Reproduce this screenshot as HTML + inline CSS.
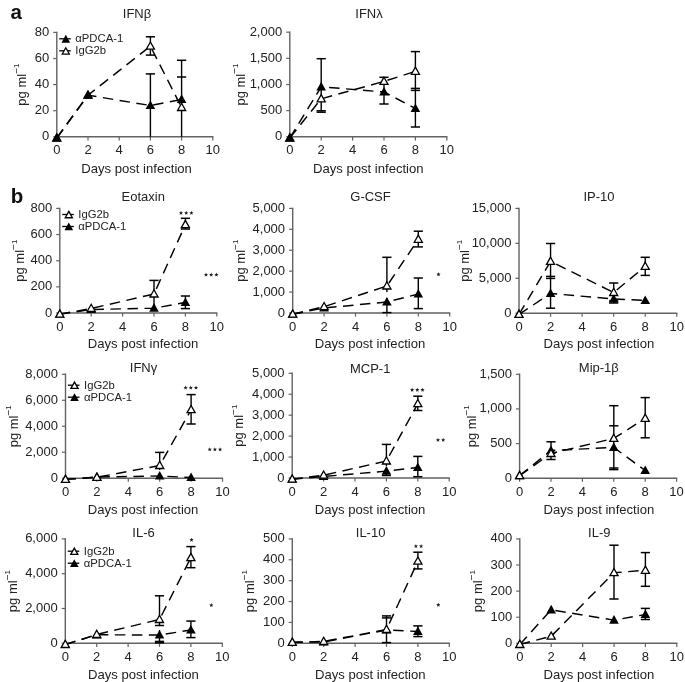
<!DOCTYPE html>
<html><head><meta charset="utf-8"><style>
html,body{margin:0;padding:0;background:#fff;}
svg{display:block;filter:grayscale(1);}
.t{font-family:"Liberation Sans", sans-serif;font-size:13px;fill:#222;}
.l{font-family:"Liberation Sans", sans-serif;font-size:11.3px;fill:#222;}
.s{font-family:"Liberation Sans", sans-serif;font-size:12px;fill:#222;}
.p{font-family:"Liberation Sans", sans-serif;font-size:20.5px;font-weight:bold;fill:#111;}
</style></head><body>
<svg width="685" height="682" viewBox="0 0 685 682">
<rect width="685" height="682" fill="#fff"/>
<path d="M56.8 31.7V136.8H213.4" fill="none" stroke="#626262" stroke-width="1.4"/>
<path d="M53.2 136.8H56.8" stroke="#626262" stroke-width="1.2"/>
<text x="49.2" y="140.3" text-anchor="end" class="t">0</text>
<path d="M53.2 110.7H56.8" stroke="#626262" stroke-width="1.2"/>
<text x="49.2" y="114.2" text-anchor="end" class="t">20</text>
<path d="M53.2 84.6H56.8" stroke="#626262" stroke-width="1.2"/>
<text x="49.2" y="88.1" text-anchor="end" class="t">40</text>
<path d="M53.2 58.5H56.8" stroke="#626262" stroke-width="1.2"/>
<text x="49.2" y="62" text-anchor="end" class="t">60</text>
<path d="M53.2 32.4H56.8" stroke="#626262" stroke-width="1.2"/>
<text x="49.2" y="35.9" text-anchor="end" class="t">80</text>
<path d="M56.8 136.8V140.4" stroke="#626262" stroke-width="1.2"/>
<text x="56.8" y="154.4" text-anchor="middle" class="t">0</text>
<path d="M88 136.8V140.4" stroke="#626262" stroke-width="1.2"/>
<text x="88" y="154.4" text-anchor="middle" class="t">2</text>
<path d="M119.2 136.8V140.4" stroke="#626262" stroke-width="1.2"/>
<text x="119.2" y="154.4" text-anchor="middle" class="t">4</text>
<path d="M150.4 136.8V140.4" stroke="#626262" stroke-width="1.2"/>
<text x="150.4" y="154.4" text-anchor="middle" class="t">6</text>
<path d="M181.6 136.8V140.4" stroke="#626262" stroke-width="1.2"/>
<text x="181.6" y="154.4" text-anchor="middle" class="t">8</text>
<path d="M212.8 136.8V140.4" stroke="#626262" stroke-width="1.2"/>
<text x="212.8" y="154.4" text-anchor="middle" class="t">10</text>
<text x="136.6" y="173.1" text-anchor="middle" class="t" style="font-size:13.1px">Days post infection</text>
<text transform="translate(25.8 84.6) rotate(-90)" text-anchor="middle" class="t">pg ml<tspan dy="-6.2" font-size="10">−</tspan><tspan dy="-0.5" font-size="8">1</tspan></text>
<text x="137" y="18.3" text-anchor="middle" class="t">IFNβ</text>
<path d="M56.8 138L88 95.2L150.4 105.5L181.6 99.4" fill="none" stroke="#000" stroke-width="1.45" stroke-dasharray="10.5 6.5"/>
<path d="M56.8 138L88 95.2L150.4 46.2L181.6 107.5" fill="none" stroke="#000" stroke-width="1.45" stroke-dasharray="10.5 6.5"/>
<path d="M150.4 36.8V55.1" stroke="#000" stroke-width="1.4"/>
<path d="M145.8 36.8H155" stroke="#000" stroke-width="1.5"/>
<path d="M145.8 55.1H155" stroke="#000" stroke-width="1.5"/>
<path d="M150.4 73.9V136.8" stroke="#000" stroke-width="1.4"/>
<path d="M145.8 73.9H155" stroke="#000" stroke-width="1.5"/>
<path d="M181.6 60.3V136.8" stroke="#000" stroke-width="1.4"/>
<path d="M177 60.3H186.2" stroke="#000" stroke-width="1.5"/>
<path d="M177 77H186.2" stroke="#000" stroke-width="1.5"/>
<path d="M56.8 133.8L60.85 141L52.75 141Z" fill="#fff" stroke="#000" stroke-width="1.3" stroke-linejoin="miter"/>
<path d="M88 91L92.05 98.2L83.95 98.2Z" fill="#fff" stroke="#000" stroke-width="1.3" stroke-linejoin="miter"/>
<path d="M150.4 42L154.45 49.2L146.35 49.2Z" fill="#fff" stroke="#000" stroke-width="1.3" stroke-linejoin="miter"/>
<path d="M181.6 103.3L185.65 110.5L177.55 110.5Z" fill="#fff" stroke="#000" stroke-width="1.3" stroke-linejoin="miter"/>
<path d="M56.8 132.9L61.6 141.6L52 141.6Z" fill="#000"/>
<path d="M88 90.1L92.8 98.8L83.2 98.8Z" fill="#000"/>
<path d="M150.4 100.4L155.2 109.1L145.6 109.1Z" fill="#000"/>
<path d="M181.6 94.3L186.4 103L176.8 103Z" fill="#000"/>
<path d="M59.2 38.8H70.8" stroke="#000" stroke-width="1.3"/>
<path d="M65.8 34.81L70.12 42.64L61.48 42.64Z" fill="#000"/>
<text x="75.3" y="42.4" class="l">αPDCA-1</text>
<path d="M59.2 50.8H70.8" stroke="#000" stroke-width="1.3"/>
<path d="M65.8 47.71L69.37 54.04L62.23 54.04Z" fill="#fff" stroke="#000" stroke-width="1.3" stroke-linejoin="miter"/>
<text x="75.3" y="54.4" class="l">IgG2b</text>
<path d="M289.8 31.5V136.8H447.4" fill="none" stroke="#626262" stroke-width="1.4"/>
<path d="M286.2 136.8H289.8" stroke="#626262" stroke-width="1.2"/>
<text x="282.2" y="140.3" text-anchor="end" class="t">0</text>
<path d="M286.2 110.65H289.8" stroke="#626262" stroke-width="1.2"/>
<text x="282.2" y="114.15" text-anchor="end" class="t">500</text>
<path d="M286.2 84.5H289.8" stroke="#626262" stroke-width="1.2"/>
<text x="282.2" y="88" text-anchor="end" class="t">1,000</text>
<path d="M286.2 58.35H289.8" stroke="#626262" stroke-width="1.2"/>
<text x="282.2" y="61.85" text-anchor="end" class="t">1,500</text>
<path d="M286.2 32.2H289.8" stroke="#626262" stroke-width="1.2"/>
<text x="282.2" y="35.7" text-anchor="end" class="t">2,000</text>
<path d="M289.8 136.8V140.4" stroke="#626262" stroke-width="1.2"/>
<text x="289.8" y="154.4" text-anchor="middle" class="t">0</text>
<path d="M321.2 136.8V140.4" stroke="#626262" stroke-width="1.2"/>
<text x="321.2" y="154.4" text-anchor="middle" class="t">2</text>
<path d="M352.6 136.8V140.4" stroke="#626262" stroke-width="1.2"/>
<text x="352.6" y="154.4" text-anchor="middle" class="t">4</text>
<path d="M384 136.8V140.4" stroke="#626262" stroke-width="1.2"/>
<text x="384" y="154.4" text-anchor="middle" class="t">6</text>
<path d="M415.4 136.8V140.4" stroke="#626262" stroke-width="1.2"/>
<text x="415.4" y="154.4" text-anchor="middle" class="t">8</text>
<path d="M446.8 136.8V140.4" stroke="#626262" stroke-width="1.2"/>
<text x="446.8" y="154.4" text-anchor="middle" class="t">10</text>
<text x="368.3" y="173.1" text-anchor="middle" class="t" style="font-size:13.1px">Days post infection</text>
<text transform="translate(244.5 84.5) rotate(-90)" text-anchor="middle" class="t">pg ml<tspan dy="-6.2" font-size="10">−</tspan><tspan dy="-0.5" font-size="8">1</tspan></text>
<text x="369" y="18.3" text-anchor="middle" class="t">IFNλ</text>
<path d="M289.8 138L321.2 86.8L384 92L415.4 108.5" fill="none" stroke="#000" stroke-width="1.45" stroke-dasharray="10.5 6.5"/>
<path d="M289.8 138L321.2 98.8L384 81.4L415.4 71.3" fill="none" stroke="#000" stroke-width="1.45" stroke-dasharray="10.5 6.5"/>
<path d="M321.2 58.7V111.6" stroke="#000" stroke-width="1.4"/>
<path d="M316.6 58.7H325.8" stroke="#000" stroke-width="1.5"/>
<path d="M316.6 110.8H325.8" stroke="#000" stroke-width="1.5"/>
<path d="M316.6 112.2H325.8" stroke="#000" stroke-width="1.5"/>
<path d="M384 77.3V104" stroke="#000" stroke-width="1.4"/>
<path d="M379.4 77.3H388.6" stroke="#000" stroke-width="1.5"/>
<path d="M379.4 104H388.6" stroke="#000" stroke-width="1.5"/>
<path d="M415.4 51.6V127" stroke="#000" stroke-width="1.4"/>
<path d="M410.8 51.6H420" stroke="#000" stroke-width="1.5"/>
<path d="M410.8 88.4H420" stroke="#000" stroke-width="1.5"/>
<path d="M410.8 90.4H420" stroke="#000" stroke-width="1.5"/>
<path d="M410.8 127H420" stroke="#000" stroke-width="1.5"/>
<path d="M289.8 133.8L293.85 141L285.75 141Z" fill="#fff" stroke="#000" stroke-width="1.3" stroke-linejoin="miter"/>
<path d="M321.2 94.6L325.25 101.8L317.15 101.8Z" fill="#fff" stroke="#000" stroke-width="1.3" stroke-linejoin="miter"/>
<path d="M384 77.2L388.05 84.4L379.95 84.4Z" fill="#fff" stroke="#000" stroke-width="1.3" stroke-linejoin="miter"/>
<path d="M415.4 67.1L419.45 74.3L411.35 74.3Z" fill="#fff" stroke="#000" stroke-width="1.3" stroke-linejoin="miter"/>
<path d="M289.8 132.9L294.6 141.6L285 141.6Z" fill="#000"/>
<path d="M321.2 81.7L326 90.4L316.4 90.4Z" fill="#000"/>
<path d="M384 86.9L388.8 95.6L379.2 95.6Z" fill="#000"/>
<path d="M415.4 103.4L420.2 112.1L410.6 112.1Z" fill="#000"/>
<path d="M59.8 207.7V313H217.4" fill="none" stroke="#626262" stroke-width="1.4"/>
<path d="M56.2 313H59.8" stroke="#626262" stroke-width="1.2"/>
<text x="52.2" y="316.5" text-anchor="end" class="t">0</text>
<path d="M56.2 286.85H59.8" stroke="#626262" stroke-width="1.2"/>
<text x="52.2" y="290.35" text-anchor="end" class="t">200</text>
<path d="M56.2 260.7H59.8" stroke="#626262" stroke-width="1.2"/>
<text x="52.2" y="264.2" text-anchor="end" class="t">400</text>
<path d="M56.2 234.55H59.8" stroke="#626262" stroke-width="1.2"/>
<text x="52.2" y="238.05" text-anchor="end" class="t">600</text>
<path d="M56.2 208.4H59.8" stroke="#626262" stroke-width="1.2"/>
<text x="52.2" y="211.9" text-anchor="end" class="t">800</text>
<path d="M59.8 313V316.6" stroke="#626262" stroke-width="1.2"/>
<text x="59.8" y="330.6" text-anchor="middle" class="t">0</text>
<path d="M91.2 313V316.6" stroke="#626262" stroke-width="1.2"/>
<text x="91.2" y="330.6" text-anchor="middle" class="t">2</text>
<path d="M122.6 313V316.6" stroke="#626262" stroke-width="1.2"/>
<text x="122.6" y="330.6" text-anchor="middle" class="t">4</text>
<path d="M154 313V316.6" stroke="#626262" stroke-width="1.2"/>
<text x="154" y="330.6" text-anchor="middle" class="t">6</text>
<path d="M185.4 313V316.6" stroke="#626262" stroke-width="1.2"/>
<text x="185.4" y="330.6" text-anchor="middle" class="t">8</text>
<path d="M216.8 313V316.6" stroke="#626262" stroke-width="1.2"/>
<text x="216.8" y="330.6" text-anchor="middle" class="t">10</text>
<text x="143" y="348.2" text-anchor="middle" class="t" style="font-size:13.1px">Days post infection</text>
<text transform="translate(23.6 260.7) rotate(-90)" text-anchor="middle" class="t">pg ml<tspan dy="-6.2" font-size="10">−</tspan><tspan dy="-0.5" font-size="8">1</tspan></text>
<text x="143.3" y="201" text-anchor="middle" class="t">Eotaxin</text>
<path d="M59.8 314.2L91.2 309.5L154 308.2L185.4 302.5" fill="none" stroke="#000" stroke-width="1.45" stroke-dasharray="10.5 6.5"/>
<path d="M59.8 314.2L91.2 308.5L154 294L185.4 224.6" fill="none" stroke="#000" stroke-width="1.45" stroke-dasharray="10.5 6.5"/>
<path d="M154 280.4V306" stroke="#000" stroke-width="1.4"/>
<path d="M149.4 280.4H158.6" stroke="#000" stroke-width="1.5"/>
<path d="M185.4 218.3V229" stroke="#000" stroke-width="1.4"/>
<path d="M180.8 218.3H190" stroke="#000" stroke-width="1.5"/>
<path d="M180.8 229H190" stroke="#000" stroke-width="1.5"/>
<path d="M185.4 296V308.6" stroke="#000" stroke-width="1.4"/>
<path d="M180.8 296H190" stroke="#000" stroke-width="1.5"/>
<path d="M180.8 308.6H190" stroke="#000" stroke-width="1.5"/>
<path d="M59.8 309.1L64.6 317.8L55 317.8Z" fill="#000"/>
<path d="M91.2 304.4L96 313.1L86.4 313.1Z" fill="#000"/>
<path d="M154 303.1L158.8 311.8L149.2 311.8Z" fill="#000"/>
<path d="M185.4 297.4L190.2 306.1L180.6 306.1Z" fill="#000"/>
<path d="M59.8 310L63.85 317.2L55.75 317.2Z" fill="#fff" stroke="#000" stroke-width="1.3" stroke-linejoin="miter"/>
<path d="M91.2 304.3L95.25 311.5L87.15 311.5Z" fill="#fff" stroke="#000" stroke-width="1.3" stroke-linejoin="miter"/>
<path d="M154 289.8L158.05 297L149.95 297Z" fill="#fff" stroke="#000" stroke-width="1.3" stroke-linejoin="miter"/>
<path d="M185.4 220.4L189.45 227.6L181.35 227.6Z" fill="#fff" stroke="#000" stroke-width="1.3" stroke-linejoin="miter"/>
<path d="M181 210.8L181.59 212.19L183.09 212.32L181.95 213.31L182.29 214.78L181 214L179.71 214.78L180.05 213.31L178.91 212.32L180.41 212.19Z" fill="#222"/>
<path d="M186.2 210.8L186.79 212.19L188.29 212.32L187.15 213.31L187.49 214.78L186.2 214L184.91 214.78L185.25 213.31L184.11 212.32L185.61 212.19Z" fill="#222"/>
<path d="M191.4 210.8L191.99 212.19L193.49 212.32L192.35 213.31L192.69 214.78L191.4 214L190.11 214.78L190.45 213.31L189.31 212.32L190.81 212.19Z" fill="#222"/>
<path d="M206 272.5L206.59 273.89L208.09 274.02L206.95 275.01L207.29 276.48L206 275.7L204.71 276.48L205.05 275.01L203.91 274.02L205.41 273.89Z" fill="#222"/>
<path d="M211.2 272.5L211.79 273.89L213.29 274.02L212.15 275.01L212.49 276.48L211.2 275.7L209.91 276.48L210.25 275.01L209.11 274.02L210.61 273.89Z" fill="#222"/>
<path d="M216.4 272.5L216.99 273.89L218.49 274.02L217.35 275.01L217.69 276.48L216.4 275.7L215.11 276.48L215.45 275.01L214.31 274.02L215.81 273.89Z" fill="#222"/>
<path d="M62.2 214.5H73.8" stroke="#000" stroke-width="1.3"/>
<path d="M68.8 211.41L72.37 217.74L65.23 217.74Z" fill="#fff" stroke="#000" stroke-width="1.3" stroke-linejoin="miter"/>
<text x="78.3" y="218.1" class="l">IgG2b</text>
<path d="M62.2 226.5H73.8" stroke="#000" stroke-width="1.3"/>
<path d="M68.8 222.51L73.12 230.34L64.48 230.34Z" fill="#000"/>
<text x="78.3" y="230.1" class="l">αPDCA-1</text>
<path d="M292.7 207.7V313H450.3" fill="none" stroke="#626262" stroke-width="1.4"/>
<path d="M289.1 313H292.7" stroke="#626262" stroke-width="1.2"/>
<text x="285.1" y="316.5" text-anchor="end" class="t">0</text>
<path d="M289.1 292.08H292.7" stroke="#626262" stroke-width="1.2"/>
<text x="285.1" y="295.58" text-anchor="end" class="t">1,000</text>
<path d="M289.1 271.16H292.7" stroke="#626262" stroke-width="1.2"/>
<text x="285.1" y="274.66" text-anchor="end" class="t">2,000</text>
<path d="M289.1 250.24H292.7" stroke="#626262" stroke-width="1.2"/>
<text x="285.1" y="253.74" text-anchor="end" class="t">3,000</text>
<path d="M289.1 229.32H292.7" stroke="#626262" stroke-width="1.2"/>
<text x="285.1" y="232.82" text-anchor="end" class="t">4,000</text>
<path d="M289.1 208.4H292.7" stroke="#626262" stroke-width="1.2"/>
<text x="285.1" y="211.9" text-anchor="end" class="t">5,000</text>
<path d="M292.7 313V316.6" stroke="#626262" stroke-width="1.2"/>
<text x="292.7" y="330.6" text-anchor="middle" class="t">0</text>
<path d="M324.1 313V316.6" stroke="#626262" stroke-width="1.2"/>
<text x="324.1" y="330.6" text-anchor="middle" class="t">2</text>
<path d="M355.5 313V316.6" stroke="#626262" stroke-width="1.2"/>
<text x="355.5" y="330.6" text-anchor="middle" class="t">4</text>
<path d="M386.9 313V316.6" stroke="#626262" stroke-width="1.2"/>
<text x="386.9" y="330.6" text-anchor="middle" class="t">6</text>
<path d="M418.3 313V316.6" stroke="#626262" stroke-width="1.2"/>
<text x="418.3" y="330.6" text-anchor="middle" class="t">8</text>
<path d="M449.7 313V316.6" stroke="#626262" stroke-width="1.2"/>
<text x="449.7" y="330.6" text-anchor="middle" class="t">10</text>
<text x="370" y="348.2" text-anchor="middle" class="t" style="font-size:13.1px">Days post infection</text>
<text transform="translate(245 260.7) rotate(-90)" text-anchor="middle" class="t">pg ml<tspan dy="-6.2" font-size="10">−</tspan><tspan dy="-0.5" font-size="8">1</tspan></text>
<text x="370.5" y="201" text-anchor="middle" class="t">G-CSF</text>
<path d="M292.7 314.2L324.1 308L386.9 302L418.3 294" fill="none" stroke="#000" stroke-width="1.45" stroke-dasharray="10.5 6.5"/>
<path d="M292.7 314.2L324.1 306.7L386.9 286L418.3 239.3" fill="none" stroke="#000" stroke-width="1.45" stroke-dasharray="10.5 6.5"/>
<path d="M386.9 257.3V292" stroke="#000" stroke-width="1.4"/>
<path d="M382.3 257.3H391.5" stroke="#000" stroke-width="1.5"/>
<path d="M386.9 298V312.6" stroke="#000" stroke-width="1.4"/>
<path d="M382.3 312.6H391.5" stroke="#000" stroke-width="1.5"/>
<path d="M418.3 231.2V246.9" stroke="#000" stroke-width="1.4"/>
<path d="M413.7 231.2H422.9" stroke="#000" stroke-width="1.5"/>
<path d="M413.7 246.9H422.9" stroke="#000" stroke-width="1.5"/>
<path d="M418.3 278V308.6" stroke="#000" stroke-width="1.4"/>
<path d="M413.7 278H422.9" stroke="#000" stroke-width="1.5"/>
<path d="M413.7 308.6H422.9" stroke="#000" stroke-width="1.5"/>
<path d="M292.7 309.1L297.5 317.8L287.9 317.8Z" fill="#000"/>
<path d="M324.1 302.9L328.9 311.6L319.3 311.6Z" fill="#000"/>
<path d="M386.9 296.9L391.7 305.6L382.1 305.6Z" fill="#000"/>
<path d="M418.3 288.9L423.1 297.6L413.5 297.6Z" fill="#000"/>
<path d="M292.7 310L296.75 317.2L288.65 317.2Z" fill="#fff" stroke="#000" stroke-width="1.3" stroke-linejoin="miter"/>
<path d="M324.1 302.5L328.15 309.7L320.05 309.7Z" fill="#fff" stroke="#000" stroke-width="1.3" stroke-linejoin="miter"/>
<path d="M386.9 281.8L390.95 289L382.85 289Z" fill="#fff" stroke="#000" stroke-width="1.3" stroke-linejoin="miter"/>
<path d="M418.3 235.1L422.35 242.3L414.25 242.3Z" fill="#fff" stroke="#000" stroke-width="1.3" stroke-linejoin="miter"/>
<path d="M438.5 272.2L439.09 273.59L440.59 273.72L439.45 274.71L439.79 276.18L438.5 275.4L437.21 276.18L437.55 274.71L436.41 273.72L437.91 273.59Z" fill="#222"/>
<path d="M519 207.7V313.2H677.4" fill="none" stroke="#626262" stroke-width="1.4"/>
<path d="M515.4 313.2H519" stroke="#626262" stroke-width="1.2"/>
<text x="511.4" y="316.7" text-anchor="end" class="t">0</text>
<path d="M515.4 278.27H519" stroke="#626262" stroke-width="1.2"/>
<text x="511.4" y="281.77" text-anchor="end" class="t">5,000</text>
<path d="M515.4 243.33H519" stroke="#626262" stroke-width="1.2"/>
<text x="511.4" y="246.83" text-anchor="end" class="t">10,000</text>
<path d="M515.4 208.4H519" stroke="#626262" stroke-width="1.2"/>
<text x="511.4" y="211.9" text-anchor="end" class="t">15,000</text>
<path d="M519 313.2V316.8" stroke="#626262" stroke-width="1.2"/>
<text x="519" y="330.8" text-anchor="middle" class="t">0</text>
<path d="M550.56 313.2V316.8" stroke="#626262" stroke-width="1.2"/>
<text x="550.56" y="330.8" text-anchor="middle" class="t">2</text>
<path d="M582.12 313.2V316.8" stroke="#626262" stroke-width="1.2"/>
<text x="582.12" y="330.8" text-anchor="middle" class="t">4</text>
<path d="M613.68 313.2V316.8" stroke="#626262" stroke-width="1.2"/>
<text x="613.68" y="330.8" text-anchor="middle" class="t">6</text>
<path d="M645.24 313.2V316.8" stroke="#626262" stroke-width="1.2"/>
<text x="645.24" y="330.8" text-anchor="middle" class="t">8</text>
<path d="M676.8 313.2V316.8" stroke="#626262" stroke-width="1.2"/>
<text x="676.8" y="330.8" text-anchor="middle" class="t">10</text>
<text x="598.9" y="348.2" text-anchor="middle" class="t" style="font-size:13.1px">Days post infection</text>
<text transform="translate(469 260.8) rotate(-90)" text-anchor="middle" class="t">pg ml<tspan dy="-6.2" font-size="10">−</tspan><tspan dy="-0.5" font-size="8">1</tspan></text>
<text x="599" y="201" text-anchor="middle" class="t">IP-10</text>
<path d="M519 314.4L550.56 293.5L613.68 299L645.24 300.5" fill="none" stroke="#000" stroke-width="1.45" stroke-dasharray="10.5 6.5"/>
<path d="M519 314.4L550.56 261.4L613.68 292.5L645.24 266.4" fill="none" stroke="#000" stroke-width="1.45" stroke-dasharray="10.5 6.5"/>
<path d="M550.56 243.5V308.2" stroke="#000" stroke-width="1.4"/>
<path d="M545.96 243.5H555.16" stroke="#000" stroke-width="1.5"/>
<path d="M545.96 276.4H555.16" stroke="#000" stroke-width="1.5"/>
<path d="M545.96 278.4H555.16" stroke="#000" stroke-width="1.5"/>
<path d="M545.96 308.2H555.16" stroke="#000" stroke-width="1.5"/>
<path d="M613.68 283V303" stroke="#000" stroke-width="1.4"/>
<path d="M609.08 283H618.28" stroke="#000" stroke-width="1.5"/>
<path d="M609.08 301H618.28" stroke="#000" stroke-width="1.5"/>
<path d="M609.08 303H618.28" stroke="#000" stroke-width="1.5"/>
<path d="M645.24 257.3V275.4" stroke="#000" stroke-width="1.4"/>
<path d="M640.64 257.3H649.84" stroke="#000" stroke-width="1.5"/>
<path d="M640.64 275.4H649.84" stroke="#000" stroke-width="1.5"/>
<path d="M519 309.3L523.8 318L514.2 318Z" fill="#000"/>
<path d="M550.56 288.4L555.36 297.1L545.76 297.1Z" fill="#000"/>
<path d="M613.68 293.9L618.48 302.6L608.88 302.6Z" fill="#000"/>
<path d="M645.24 295.4L650.04 304.1L640.44 304.1Z" fill="#000"/>
<path d="M519 310.2L523.05 317.4L514.95 317.4Z" fill="#fff" stroke="#000" stroke-width="1.3" stroke-linejoin="miter"/>
<path d="M550.56 257.2L554.61 264.4L546.51 264.4Z" fill="#fff" stroke="#000" stroke-width="1.3" stroke-linejoin="miter"/>
<path d="M613.68 288.3L617.73 295.5L609.63 295.5Z" fill="#fff" stroke="#000" stroke-width="1.3" stroke-linejoin="miter"/>
<path d="M645.24 262.2L649.29 269.4L641.19 269.4Z" fill="#fff" stroke="#000" stroke-width="1.3" stroke-linejoin="miter"/>
<path d="M65.5 373.6V478.2H223.1" fill="none" stroke="#626262" stroke-width="1.4"/>
<path d="M61.9 478.2H65.5" stroke="#626262" stroke-width="1.2"/>
<text x="57.9" y="481.7" text-anchor="end" class="t">0</text>
<path d="M61.9 452.23H65.5" stroke="#626262" stroke-width="1.2"/>
<text x="57.9" y="455.73" text-anchor="end" class="t">2,000</text>
<path d="M61.9 426.25H65.5" stroke="#626262" stroke-width="1.2"/>
<text x="57.9" y="429.75" text-anchor="end" class="t">4,000</text>
<path d="M61.9 400.27H65.5" stroke="#626262" stroke-width="1.2"/>
<text x="57.9" y="403.77" text-anchor="end" class="t">6,000</text>
<path d="M61.9 374.3H65.5" stroke="#626262" stroke-width="1.2"/>
<text x="57.9" y="377.8" text-anchor="end" class="t">8,000</text>
<path d="M65.5 478.2V481.8" stroke="#626262" stroke-width="1.2"/>
<text x="65.5" y="495.8" text-anchor="middle" class="t">0</text>
<path d="M96.9 478.2V481.8" stroke="#626262" stroke-width="1.2"/>
<text x="96.9" y="495.8" text-anchor="middle" class="t">2</text>
<path d="M128.3 478.2V481.8" stroke="#626262" stroke-width="1.2"/>
<text x="128.3" y="495.8" text-anchor="middle" class="t">4</text>
<path d="M159.7 478.2V481.8" stroke="#626262" stroke-width="1.2"/>
<text x="159.7" y="495.8" text-anchor="middle" class="t">6</text>
<path d="M191.1 478.2V481.8" stroke="#626262" stroke-width="1.2"/>
<text x="191.1" y="495.8" text-anchor="middle" class="t">8</text>
<path d="M222.5 478.2V481.8" stroke="#626262" stroke-width="1.2"/>
<text x="222.5" y="495.8" text-anchor="middle" class="t">10</text>
<text x="143.1" y="513.7" text-anchor="middle" class="t" style="font-size:13.1px">Days post infection</text>
<text transform="translate(18 426.25) rotate(-90)" text-anchor="middle" class="t">pg ml<tspan dy="-6.2" font-size="10">−</tspan><tspan dy="-0.5" font-size="8">1</tspan></text>
<text x="143.5" y="371.5" text-anchor="middle" class="t">IFNγ</text>
<path d="M65.5 479.4L96.9 477L159.7 476L191.1 477.5" fill="none" stroke="#000" stroke-width="1.45" stroke-dasharray="10.5 6.5"/>
<path d="M65.5 479.4L96.9 477.3L159.7 465.5L191.1 409.7" fill="none" stroke="#000" stroke-width="1.45" stroke-dasharray="10.5 6.5"/>
<path d="M159.7 452.4V470" stroke="#000" stroke-width="1.4"/>
<path d="M155.1 452.4H164.3" stroke="#000" stroke-width="1.5"/>
<path d="M191.1 394.6V424" stroke="#000" stroke-width="1.4"/>
<path d="M186.5 394.6H195.7" stroke="#000" stroke-width="1.5"/>
<path d="M186.5 424H195.7" stroke="#000" stroke-width="1.5"/>
<path d="M65.5 474.3L70.3 483L60.7 483Z" fill="#000"/>
<path d="M96.9 471.9L101.7 480.6L92.1 480.6Z" fill="#000"/>
<path d="M159.7 470.9L164.5 479.6L154.9 479.6Z" fill="#000"/>
<path d="M191.1 472.4L195.9 481.1L186.3 481.1Z" fill="#000"/>
<path d="M65.5 475.2L69.55 482.4L61.45 482.4Z" fill="#fff" stroke="#000" stroke-width="1.3" stroke-linejoin="miter"/>
<path d="M96.9 473.1L100.95 480.3L92.85 480.3Z" fill="#fff" stroke="#000" stroke-width="1.3" stroke-linejoin="miter"/>
<path d="M159.7 461.3L163.75 468.5L155.65 468.5Z" fill="#fff" stroke="#000" stroke-width="1.3" stroke-linejoin="miter"/>
<path d="M191.1 405.5L195.15 412.7L187.05 412.7Z" fill="#fff" stroke="#000" stroke-width="1.3" stroke-linejoin="miter"/>
<path d="M185.6 385.6L186.19 386.99L187.69 387.12L186.55 388.11L186.89 389.58L185.6 388.8L184.31 389.58L184.65 388.11L183.51 387.12L185.01 386.99Z" fill="#222"/>
<path d="M190.8 385.6L191.39 386.99L192.89 387.12L191.75 388.11L192.09 389.58L190.8 388.8L189.51 389.58L189.85 388.11L188.71 387.12L190.21 386.99Z" fill="#222"/>
<path d="M196 385.6L196.59 386.99L198.09 387.12L196.95 388.11L197.29 389.58L196 388.8L194.71 389.58L195.05 388.11L193.91 387.12L195.41 386.99Z" fill="#222"/>
<path d="M209.7 447.3L210.29 448.69L211.79 448.82L210.65 449.81L210.99 451.28L209.7 450.5L208.41 451.28L208.75 449.81L207.61 448.82L209.11 448.69Z" fill="#222"/>
<path d="M214.9 447.3L215.49 448.69L216.99 448.82L215.85 449.81L216.19 451.28L214.9 450.5L213.61 451.28L213.95 449.81L212.81 448.82L214.31 448.69Z" fill="#222"/>
<path d="M220.1 447.3L220.69 448.69L222.19 448.82L221.05 449.81L221.39 451.28L220.1 450.5L218.81 451.28L219.15 449.81L218.01 448.82L219.51 448.69Z" fill="#222"/>
<path d="M67.9 385.2H79.5" stroke="#000" stroke-width="1.3"/>
<path d="M74.5 382.11L78.07 388.44L70.93 388.44Z" fill="#fff" stroke="#000" stroke-width="1.3" stroke-linejoin="miter"/>
<text x="84" y="388.8" class="l">IgG2b</text>
<path d="M67.9 397.2H79.5" stroke="#000" stroke-width="1.3"/>
<path d="M74.5 393.21L78.82 401.04L70.18 401.04Z" fill="#000"/>
<text x="84" y="400.8" class="l">αPDCA-1</text>
<path d="M292.2 372.6V478H449.8" fill="none" stroke="#626262" stroke-width="1.4"/>
<path d="M288.6 478H292.2" stroke="#626262" stroke-width="1.2"/>
<text x="284.6" y="481.5" text-anchor="end" class="t">0</text>
<path d="M288.6 457.06H292.2" stroke="#626262" stroke-width="1.2"/>
<text x="284.6" y="460.56" text-anchor="end" class="t">1,000</text>
<path d="M288.6 436.12H292.2" stroke="#626262" stroke-width="1.2"/>
<text x="284.6" y="439.62" text-anchor="end" class="t">2,000</text>
<path d="M288.6 415.18H292.2" stroke="#626262" stroke-width="1.2"/>
<text x="284.6" y="418.68" text-anchor="end" class="t">3,000</text>
<path d="M288.6 394.24H292.2" stroke="#626262" stroke-width="1.2"/>
<text x="284.6" y="397.74" text-anchor="end" class="t">4,000</text>
<path d="M288.6 373.3H292.2" stroke="#626262" stroke-width="1.2"/>
<text x="284.6" y="376.8" text-anchor="end" class="t">5,000</text>
<path d="M292.2 478V481.6" stroke="#626262" stroke-width="1.2"/>
<text x="292.2" y="495.6" text-anchor="middle" class="t">0</text>
<path d="M323.6 478V481.6" stroke="#626262" stroke-width="1.2"/>
<text x="323.6" y="495.6" text-anchor="middle" class="t">2</text>
<path d="M355 478V481.6" stroke="#626262" stroke-width="1.2"/>
<text x="355" y="495.6" text-anchor="middle" class="t">4</text>
<path d="M386.4 478V481.6" stroke="#626262" stroke-width="1.2"/>
<text x="386.4" y="495.6" text-anchor="middle" class="t">6</text>
<path d="M417.8 478V481.6" stroke="#626262" stroke-width="1.2"/>
<text x="417.8" y="495.6" text-anchor="middle" class="t">8</text>
<path d="M449.2 478V481.6" stroke="#626262" stroke-width="1.2"/>
<text x="449.2" y="495.6" text-anchor="middle" class="t">10</text>
<text x="370.1" y="513.7" text-anchor="middle" class="t" style="font-size:13.1px">Days post infection</text>
<text transform="translate(243.2 425.65) rotate(-90)" text-anchor="middle" class="t">pg ml<tspan dy="-6.2" font-size="10">−</tspan><tspan dy="-0.5" font-size="8">1</tspan></text>
<text x="370.2" y="372.6" text-anchor="middle" class="t">MCP-1</text>
<path d="M292.2 479.2L323.6 476.5L386.4 471.1L417.8 467.5" fill="none" stroke="#000" stroke-width="1.45" stroke-dasharray="10.5 6.5"/>
<path d="M292.2 479.2L323.6 475.2L386.4 461L417.8 403.7" fill="none" stroke="#000" stroke-width="1.45" stroke-dasharray="10.5 6.5"/>
<path d="M386.4 444.4V466" stroke="#000" stroke-width="1.4"/>
<path d="M381.8 444.4H391" stroke="#000" stroke-width="1.5"/>
<path d="M386.4 468V475.5" stroke="#000" stroke-width="1.4"/>
<path d="M381.8 475.5H391" stroke="#000" stroke-width="1.5"/>
<path d="M417.8 396.2V410.5" stroke="#000" stroke-width="1.4"/>
<path d="M413.2 396.2H422.4" stroke="#000" stroke-width="1.5"/>
<path d="M413.2 410.5H422.4" stroke="#000" stroke-width="1.5"/>
<path d="M417.8 456.4V476.7" stroke="#000" stroke-width="1.4"/>
<path d="M413.2 456.4H422.4" stroke="#000" stroke-width="1.5"/>
<path d="M413.2 476.7H422.4" stroke="#000" stroke-width="1.5"/>
<path d="M292.2 474.1L297 482.8L287.4 482.8Z" fill="#000"/>
<path d="M323.6 471.4L328.4 480.1L318.8 480.1Z" fill="#000"/>
<path d="M386.4 466L391.2 474.7L381.6 474.7Z" fill="#000"/>
<path d="M417.8 462.4L422.6 471.1L413 471.1Z" fill="#000"/>
<path d="M292.2 475L296.25 482.2L288.15 482.2Z" fill="#fff" stroke="#000" stroke-width="1.3" stroke-linejoin="miter"/>
<path d="M323.6 471L327.65 478.2L319.55 478.2Z" fill="#fff" stroke="#000" stroke-width="1.3" stroke-linejoin="miter"/>
<path d="M386.4 456.8L390.45 464L382.35 464Z" fill="#fff" stroke="#000" stroke-width="1.3" stroke-linejoin="miter"/>
<path d="M417.8 399.5L421.85 406.7L413.75 406.7Z" fill="#fff" stroke="#000" stroke-width="1.3" stroke-linejoin="miter"/>
<path d="M412.1 387.7L412.69 389.09L414.19 389.22L413.05 390.21L413.39 391.68L412.1 390.9L410.81 391.68L411.15 390.21L410.01 389.22L411.51 389.09Z" fill="#222"/>
<path d="M417.3 387.7L417.89 389.09L419.39 389.22L418.25 390.21L418.59 391.68L417.3 390.9L416.01 391.68L416.35 390.21L415.21 389.22L416.71 389.09Z" fill="#222"/>
<path d="M422.5 387.7L423.09 389.09L424.59 389.22L423.45 390.21L423.79 391.68L422.5 390.9L421.21 391.68L421.55 390.21L420.41 389.22L421.91 389.09Z" fill="#222"/>
<path d="M438 437.8L438.59 439.19L440.09 439.32L438.95 440.31L439.29 441.78L438 441L436.71 441.78L437.05 440.31L435.91 439.32L437.41 439.19Z" fill="#222"/>
<path d="M443.2 437.8L443.79 439.19L445.29 439.32L444.15 440.31L444.49 441.78L443.2 441L441.91 441.78L442.25 440.31L441.11 439.32L442.61 439.19Z" fill="#222"/>
<path d="M519.6 373.6V478.2H677.2" fill="none" stroke="#626262" stroke-width="1.4"/>
<path d="M516 478.2H519.6" stroke="#626262" stroke-width="1.2"/>
<text x="512" y="481.7" text-anchor="end" class="t">0</text>
<path d="M516 443.57H519.6" stroke="#626262" stroke-width="1.2"/>
<text x="512" y="447.07" text-anchor="end" class="t">500</text>
<path d="M516 408.93H519.6" stroke="#626262" stroke-width="1.2"/>
<text x="512" y="412.43" text-anchor="end" class="t">1,000</text>
<path d="M516 374.3H519.6" stroke="#626262" stroke-width="1.2"/>
<text x="512" y="377.8" text-anchor="end" class="t">1,500</text>
<path d="M519.6 478.2V481.8" stroke="#626262" stroke-width="1.2"/>
<text x="519.6" y="495.8" text-anchor="middle" class="t">0</text>
<path d="M551 478.2V481.8" stroke="#626262" stroke-width="1.2"/>
<text x="551" y="495.8" text-anchor="middle" class="t">2</text>
<path d="M582.4 478.2V481.8" stroke="#626262" stroke-width="1.2"/>
<text x="582.4" y="495.8" text-anchor="middle" class="t">4</text>
<path d="M613.8 478.2V481.8" stroke="#626262" stroke-width="1.2"/>
<text x="613.8" y="495.8" text-anchor="middle" class="t">6</text>
<path d="M645.2 478.2V481.8" stroke="#626262" stroke-width="1.2"/>
<text x="645.2" y="495.8" text-anchor="middle" class="t">8</text>
<path d="M676.6 478.2V481.8" stroke="#626262" stroke-width="1.2"/>
<text x="676.6" y="495.8" text-anchor="middle" class="t">10</text>
<text x="598.9" y="513.7" text-anchor="middle" class="t" style="font-size:13.1px">Days post infection</text>
<text transform="translate(476 426.25) rotate(-90)" text-anchor="middle" class="t">pg ml<tspan dy="-6.2" font-size="10">−</tspan><tspan dy="-0.5" font-size="8">1</tspan></text>
<text x="598.8" y="372" text-anchor="middle" class="t">Mip-1β</text>
<path d="M519.6 475.6L551 450.5L613.8 447.4L645.2 470.5" fill="none" stroke="#000" stroke-width="1.45" stroke-dasharray="10.5 6.5"/>
<path d="M519.6 475.6L551 453.5L613.8 438.4L645.2 418.3" fill="none" stroke="#000" stroke-width="1.45" stroke-dasharray="10.5 6.5"/>
<path d="M551 441.8V459.5" stroke="#000" stroke-width="1.4"/>
<path d="M546.4 441.8H555.6" stroke="#000" stroke-width="1.5"/>
<path d="M546.4 459.5H555.6" stroke="#000" stroke-width="1.5"/>
<path d="M613.8 405.7V469.6" stroke="#000" stroke-width="1.4"/>
<path d="M609.2 405.7H618.4" stroke="#000" stroke-width="1.5"/>
<path d="M609.2 425.8H618.4" stroke="#000" stroke-width="1.5"/>
<path d="M609.2 468H618.4" stroke="#000" stroke-width="1.5"/>
<path d="M609.2 469.6H618.4" stroke="#000" stroke-width="1.5"/>
<path d="M645.2 397.6V437.8" stroke="#000" stroke-width="1.4"/>
<path d="M640.6 397.6H649.8" stroke="#000" stroke-width="1.5"/>
<path d="M640.6 437.8H649.8" stroke="#000" stroke-width="1.5"/>
<path d="M519.6 470.5L524.4 479.2L514.8 479.2Z" fill="#000"/>
<path d="M551 445.4L555.8 454.1L546.2 454.1Z" fill="#000"/>
<path d="M613.8 442.3L618.6 451L609 451Z" fill="#000"/>
<path d="M645.2 465.4L650 474.1L640.4 474.1Z" fill="#000"/>
<path d="M519.6 471.4L523.65 478.6L515.55 478.6Z" fill="#fff" stroke="#000" stroke-width="1.3" stroke-linejoin="miter"/>
<path d="M551 449.3L555.05 456.5L546.95 456.5Z" fill="#fff" stroke="#000" stroke-width="1.3" stroke-linejoin="miter"/>
<path d="M613.8 434.2L617.85 441.4L609.75 441.4Z" fill="#fff" stroke="#000" stroke-width="1.3" stroke-linejoin="miter"/>
<path d="M645.2 414.1L649.25 421.3L641.15 421.3Z" fill="#fff" stroke="#000" stroke-width="1.3" stroke-linejoin="miter"/>
<path d="M65.3 538.2V643.3H222.9" fill="none" stroke="#626262" stroke-width="1.4"/>
<path d="M61.7 643.3H65.3" stroke="#626262" stroke-width="1.2"/>
<text x="57.7" y="646.8" text-anchor="end" class="t">0</text>
<path d="M61.7 608.5H65.3" stroke="#626262" stroke-width="1.2"/>
<text x="57.7" y="612" text-anchor="end" class="t">2,000</text>
<path d="M61.7 573.7H65.3" stroke="#626262" stroke-width="1.2"/>
<text x="57.7" y="577.2" text-anchor="end" class="t">4,000</text>
<path d="M61.7 538.9H65.3" stroke="#626262" stroke-width="1.2"/>
<text x="57.7" y="542.4" text-anchor="end" class="t">6,000</text>
<path d="M65.3 643.3V646.9" stroke="#626262" stroke-width="1.2"/>
<text x="65.3" y="660.9" text-anchor="middle" class="t">0</text>
<path d="M96.7 643.3V646.9" stroke="#626262" stroke-width="1.2"/>
<text x="96.7" y="660.9" text-anchor="middle" class="t">2</text>
<path d="M128.1 643.3V646.9" stroke="#626262" stroke-width="1.2"/>
<text x="128.1" y="660.9" text-anchor="middle" class="t">4</text>
<path d="M159.5 643.3V646.9" stroke="#626262" stroke-width="1.2"/>
<text x="159.5" y="660.9" text-anchor="middle" class="t">6</text>
<path d="M190.9 643.3V646.9" stroke="#626262" stroke-width="1.2"/>
<text x="190.9" y="660.9" text-anchor="middle" class="t">8</text>
<path d="M222.3 643.3V646.9" stroke="#626262" stroke-width="1.2"/>
<text x="222.3" y="660.9" text-anchor="middle" class="t">10</text>
<text x="143.4" y="679.1" text-anchor="middle" class="t" style="font-size:13.1px">Days post infection</text>
<text transform="translate(16.8 591.1) rotate(-90)" text-anchor="middle" class="t">pg ml<tspan dy="-6.2" font-size="10">−</tspan><tspan dy="-0.5" font-size="8">1</tspan></text>
<text x="143.5" y="537" text-anchor="middle" class="t">IL-6</text>
<path d="M65.3 644.5L96.7 634.8L159.5 635L190.9 630" fill="none" stroke="#000" stroke-width="1.45" stroke-dasharray="10.5 6.5"/>
<path d="M65.3 644.5L96.7 634.5L159.5 619.5L190.9 557.6" fill="none" stroke="#000" stroke-width="1.45" stroke-dasharray="10.5 6.5"/>
<path d="M159.5 595.8V625.5" stroke="#000" stroke-width="1.4"/>
<path d="M154.9 595.8H164.1" stroke="#000" stroke-width="1.5"/>
<path d="M154.9 625.5H164.1" stroke="#000" stroke-width="1.5"/>
<path d="M159.5 630V642.6" stroke="#000" stroke-width="1.4"/>
<path d="M154.9 641.4H164.1" stroke="#000" stroke-width="1.5"/>
<path d="M154.9 642.8H164.1" stroke="#000" stroke-width="1.5"/>
<path d="M190.9 546.6V567.7" stroke="#000" stroke-width="1.4"/>
<path d="M186.3 546.6H195.5" stroke="#000" stroke-width="1.5"/>
<path d="M186.3 567.7H195.5" stroke="#000" stroke-width="1.5"/>
<path d="M190.9 621.1V637.6" stroke="#000" stroke-width="1.4"/>
<path d="M186.3 621.1H195.5" stroke="#000" stroke-width="1.5"/>
<path d="M186.3 637.6H195.5" stroke="#000" stroke-width="1.5"/>
<path d="M65.3 639.4L70.1 648.1L60.5 648.1Z" fill="#000"/>
<path d="M96.7 629.7L101.5 638.4L91.9 638.4Z" fill="#000"/>
<path d="M159.5 629.9L164.3 638.6L154.7 638.6Z" fill="#000"/>
<path d="M190.9 624.9L195.7 633.6L186.1 633.6Z" fill="#000"/>
<path d="M65.3 640.3L69.35 647.5L61.25 647.5Z" fill="#fff" stroke="#000" stroke-width="1.3" stroke-linejoin="miter"/>
<path d="M96.7 630.3L100.75 637.5L92.65 637.5Z" fill="#fff" stroke="#000" stroke-width="1.3" stroke-linejoin="miter"/>
<path d="M159.5 615.3L163.55 622.5L155.45 622.5Z" fill="#fff" stroke="#000" stroke-width="1.3" stroke-linejoin="miter"/>
<path d="M190.9 553.4L194.95 560.6L186.85 560.6Z" fill="#fff" stroke="#000" stroke-width="1.3" stroke-linejoin="miter"/>
<path d="M191.5 537.7L192.09 539.09L193.59 539.22L192.45 540.21L192.79 541.68L191.5 540.9L190.21 541.68L190.55 540.21L189.41 539.22L190.91 539.09Z" fill="#222"/>
<path d="M211.3 603L211.89 604.39L213.39 604.52L212.25 605.51L212.59 606.98L211.3 606.2L210.01 606.98L210.35 605.51L209.21 604.52L210.71 604.39Z" fill="#222"/>
<path d="M67.7 551.2H79.3" stroke="#000" stroke-width="1.3"/>
<path d="M74.3 548.11L77.87 554.44L70.73 554.44Z" fill="#fff" stroke="#000" stroke-width="1.3" stroke-linejoin="miter"/>
<text x="83.8" y="554.8" class="l">IgG2b</text>
<path d="M67.7 563.2H79.3" stroke="#000" stroke-width="1.3"/>
<path d="M74.3 559.21L78.62 567.04L69.98 567.04Z" fill="#000"/>
<text x="83.8" y="566.8" class="l">αPDCA-1</text>
<path d="M292.3 538.2V643.3H449.9" fill="none" stroke="#626262" stroke-width="1.4"/>
<path d="M288.7 643.3H292.3" stroke="#626262" stroke-width="1.2"/>
<text x="284.7" y="646.8" text-anchor="end" class="t">0</text>
<path d="M288.7 622.42H292.3" stroke="#626262" stroke-width="1.2"/>
<text x="284.7" y="625.92" text-anchor="end" class="t">100</text>
<path d="M288.7 601.54H292.3" stroke="#626262" stroke-width="1.2"/>
<text x="284.7" y="605.04" text-anchor="end" class="t">200</text>
<path d="M288.7 580.66H292.3" stroke="#626262" stroke-width="1.2"/>
<text x="284.7" y="584.16" text-anchor="end" class="t">300</text>
<path d="M288.7 559.78H292.3" stroke="#626262" stroke-width="1.2"/>
<text x="284.7" y="563.28" text-anchor="end" class="t">400</text>
<path d="M288.7 538.9H292.3" stroke="#626262" stroke-width="1.2"/>
<text x="284.7" y="542.4" text-anchor="end" class="t">500</text>
<path d="M292.3 643.3V646.9" stroke="#626262" stroke-width="1.2"/>
<text x="292.3" y="660.9" text-anchor="middle" class="t">0</text>
<path d="M323.7 643.3V646.9" stroke="#626262" stroke-width="1.2"/>
<text x="323.7" y="660.9" text-anchor="middle" class="t">2</text>
<path d="M355.1 643.3V646.9" stroke="#626262" stroke-width="1.2"/>
<text x="355.1" y="660.9" text-anchor="middle" class="t">4</text>
<path d="M386.5 643.3V646.9" stroke="#626262" stroke-width="1.2"/>
<text x="386.5" y="660.9" text-anchor="middle" class="t">6</text>
<path d="M417.9 643.3V646.9" stroke="#626262" stroke-width="1.2"/>
<text x="417.9" y="660.9" text-anchor="middle" class="t">8</text>
<path d="M449.3 643.3V646.9" stroke="#626262" stroke-width="1.2"/>
<text x="449.3" y="660.9" text-anchor="middle" class="t">10</text>
<text x="370.3" y="679.1" text-anchor="middle" class="t" style="font-size:13.1px">Days post infection</text>
<text transform="translate(254 591.1) rotate(-90)" text-anchor="middle" class="t">pg ml<tspan dy="-6.2" font-size="10">−</tspan><tspan dy="-0.5" font-size="8">1</tspan></text>
<text x="370.6" y="537" text-anchor="middle" class="t">IL-10</text>
<path d="M292.3 642.3L323.7 642L386.5 630L417.9 631.5" fill="none" stroke="#000" stroke-width="1.45" stroke-dasharray="10.5 6.5"/>
<path d="M292.3 642.3L323.7 641.5L386.5 629.5L417.9 561.2" fill="none" stroke="#000" stroke-width="1.45" stroke-dasharray="10.5 6.5"/>
<path d="M386.5 615.9V642.6" stroke="#000" stroke-width="1.4"/>
<path d="M381.9 615.9H391.1" stroke="#000" stroke-width="1.5"/>
<path d="M381.9 617.9H391.1" stroke="#000" stroke-width="1.5"/>
<path d="M381.9 642.6H391.1" stroke="#000" stroke-width="1.5"/>
<path d="M417.9 552.2V568.9" stroke="#000" stroke-width="1.4"/>
<path d="M413.3 552.2H422.5" stroke="#000" stroke-width="1.5"/>
<path d="M413.3 568.9H422.5" stroke="#000" stroke-width="1.5"/>
<path d="M417.9 625.9V636.6" stroke="#000" stroke-width="1.4"/>
<path d="M413.3 625.9H422.5" stroke="#000" stroke-width="1.5"/>
<path d="M413.3 636.6H422.5" stroke="#000" stroke-width="1.5"/>
<path d="M292.3 637.2L297.1 645.9L287.5 645.9Z" fill="#000"/>
<path d="M323.7 636.9L328.5 645.6L318.9 645.6Z" fill="#000"/>
<path d="M386.5 624.9L391.3 633.6L381.7 633.6Z" fill="#000"/>
<path d="M417.9 626.4L422.7 635.1L413.1 635.1Z" fill="#000"/>
<path d="M292.3 638.1L296.35 645.3L288.25 645.3Z" fill="#fff" stroke="#000" stroke-width="1.3" stroke-linejoin="miter"/>
<path d="M323.7 637.3L327.75 644.5L319.65 644.5Z" fill="#fff" stroke="#000" stroke-width="1.3" stroke-linejoin="miter"/>
<path d="M386.5 625.3L390.55 632.5L382.45 632.5Z" fill="#fff" stroke="#000" stroke-width="1.3" stroke-linejoin="miter"/>
<path d="M417.9 557L421.95 564.2L413.85 564.2Z" fill="#fff" stroke="#000" stroke-width="1.3" stroke-linejoin="miter"/>
<path d="M415.9 544L416.49 545.39L417.99 545.52L416.85 546.51L417.19 547.98L415.9 547.2L414.61 547.98L414.95 546.51L413.81 545.52L415.31 545.39Z" fill="#222"/>
<path d="M421.1 544L421.69 545.39L423.19 545.52L422.05 546.51L422.39 547.98L421.1 547.2L419.81 547.98L420.15 546.51L419.01 545.52L420.51 545.39Z" fill="#222"/>
<path d="M438.3 602.7L438.89 604.09L440.39 604.22L439.25 605.21L439.59 606.68L438.3 605.9L437.01 606.68L437.35 605.21L436.21 604.22L437.71 604.09Z" fill="#222"/>
<path d="M519.8 538.2V643.3H677.4" fill="none" stroke="#626262" stroke-width="1.4"/>
<path d="M516.2 643.3H519.8" stroke="#626262" stroke-width="1.2"/>
<text x="512.2" y="646.8" text-anchor="end" class="t">0</text>
<path d="M516.2 617.2H519.8" stroke="#626262" stroke-width="1.2"/>
<text x="512.2" y="620.7" text-anchor="end" class="t">100</text>
<path d="M516.2 591.1H519.8" stroke="#626262" stroke-width="1.2"/>
<text x="512.2" y="594.6" text-anchor="end" class="t">200</text>
<path d="M516.2 565H519.8" stroke="#626262" stroke-width="1.2"/>
<text x="512.2" y="568.5" text-anchor="end" class="t">300</text>
<path d="M516.2 538.9H519.8" stroke="#626262" stroke-width="1.2"/>
<text x="512.2" y="542.4" text-anchor="end" class="t">400</text>
<path d="M519.8 643.3V646.9" stroke="#626262" stroke-width="1.2"/>
<text x="519.8" y="660.9" text-anchor="middle" class="t">0</text>
<path d="M551.2 643.3V646.9" stroke="#626262" stroke-width="1.2"/>
<text x="551.2" y="660.9" text-anchor="middle" class="t">2</text>
<path d="M582.6 643.3V646.9" stroke="#626262" stroke-width="1.2"/>
<text x="582.6" y="660.9" text-anchor="middle" class="t">4</text>
<path d="M614 643.3V646.9" stroke="#626262" stroke-width="1.2"/>
<text x="614" y="660.9" text-anchor="middle" class="t">6</text>
<path d="M645.4 643.3V646.9" stroke="#626262" stroke-width="1.2"/>
<text x="645.4" y="660.9" text-anchor="middle" class="t">8</text>
<path d="M676.8 643.3V646.9" stroke="#626262" stroke-width="1.2"/>
<text x="676.8" y="660.9" text-anchor="middle" class="t">10</text>
<text x="598.9" y="679.1" text-anchor="middle" class="t" style="font-size:13.1px">Days post infection</text>
<text transform="translate(481.5 591.1) rotate(-90)" text-anchor="middle" class="t">pg ml<tspan dy="-6.2" font-size="10">−</tspan><tspan dy="-0.5" font-size="8">1</tspan></text>
<text x="599.3" y="537" text-anchor="middle" class="t">IL-9</text>
<path d="M519.8 644.5L551.2 609.8L614 620.1L645.4 614.5" fill="none" stroke="#000" stroke-width="1.45" stroke-dasharray="10.5 6.5"/>
<path d="M519.8 644.5L551.2 636.2L614 572.7L645.4 570.3" fill="none" stroke="#000" stroke-width="1.45" stroke-dasharray="10.5 6.5"/>
<path d="M614 545.2V599" stroke="#000" stroke-width="1.4"/>
<path d="M609.4 545.2H618.6" stroke="#000" stroke-width="1.5"/>
<path d="M609.4 599H618.6" stroke="#000" stroke-width="1.5"/>
<path d="M645.4 552.6V586.3" stroke="#000" stroke-width="1.4"/>
<path d="M640.8 552.6H650" stroke="#000" stroke-width="1.5"/>
<path d="M640.8 586.3H650" stroke="#000" stroke-width="1.5"/>
<path d="M645.4 608.4V619.5" stroke="#000" stroke-width="1.4"/>
<path d="M640.8 608.4H650" stroke="#000" stroke-width="1.5"/>
<path d="M640.8 619.5H650" stroke="#000" stroke-width="1.5"/>
<path d="M519.8 639.4L524.6 648.1L515 648.1Z" fill="#000"/>
<path d="M551.2 604.7L556 613.4L546.4 613.4Z" fill="#000"/>
<path d="M614 615L618.8 623.7L609.2 623.7Z" fill="#000"/>
<path d="M645.4 609.4L650.2 618.1L640.6 618.1Z" fill="#000"/>
<path d="M519.8 640.3L523.85 647.5L515.75 647.5Z" fill="#fff" stroke="#000" stroke-width="1.3" stroke-linejoin="miter"/>
<path d="M551.2 632L555.25 639.2L547.15 639.2Z" fill="#fff" stroke="#000" stroke-width="1.3" stroke-linejoin="miter"/>
<path d="M614 568.5L618.05 575.7L609.95 575.7Z" fill="#fff" stroke="#000" stroke-width="1.3" stroke-linejoin="miter"/>
<path d="M645.4 566.1L649.45 573.3L641.35 573.3Z" fill="#fff" stroke="#000" stroke-width="1.3" stroke-linejoin="miter"/>
<text x="10.4" y="18.6" class="p">a</text>
<text x="10.8" y="202.8" class="p">b</text>
</svg>
</body></html>
